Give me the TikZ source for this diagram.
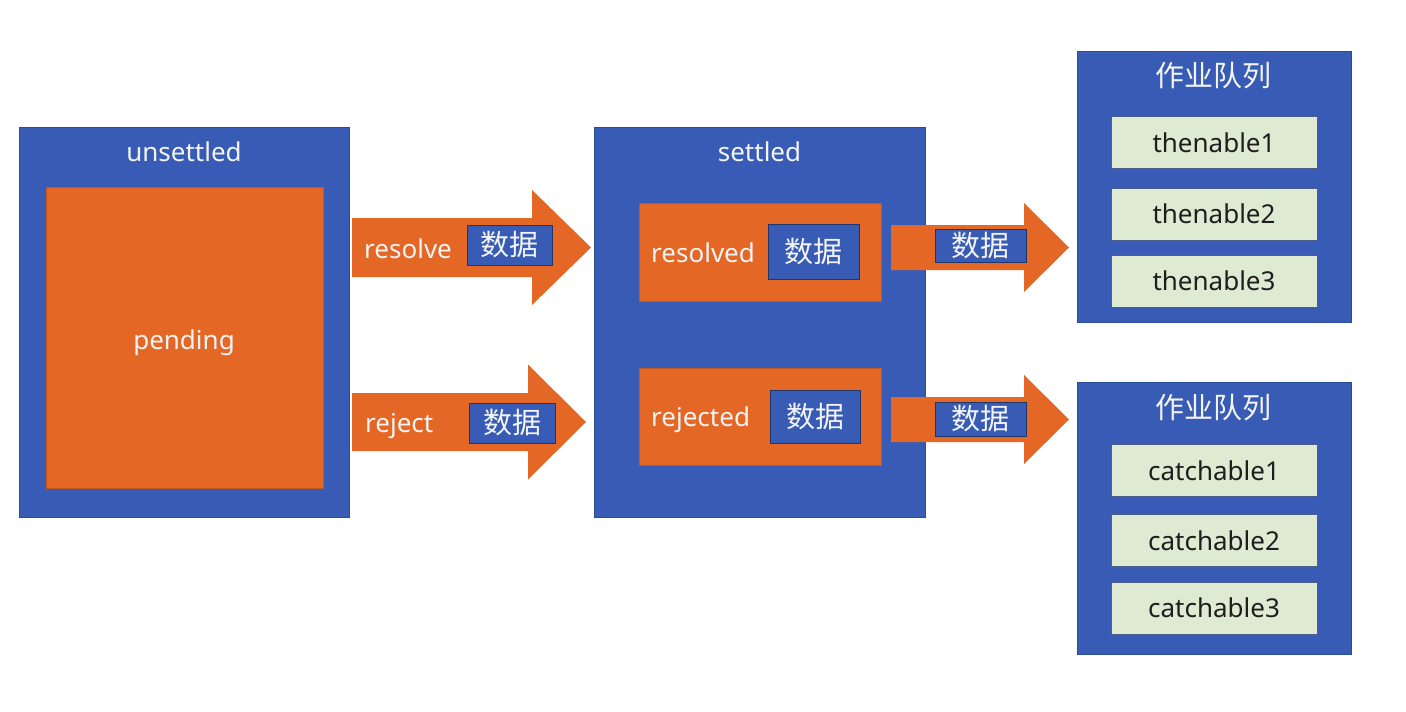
\documentclass[tikz,border=0pt]{standalone}
\usepackage{fontspec}
\setmainfont{Noto Sans}
\newfontfamily\cjk{Noto Sans CJK SC}
\definecolor{blueF}{HTML}{385CB6}
\definecolor{blueL}{HTML}{2D4C96}
\definecolor{orangeF}{HTML}{E46726}
\definecolor{greenF}{HTML}{DEEBD2}
\definecolor{txtW}{HTML}{F4F4F4}
\definecolor{txtD}{HTML}{1E1E1E}
% fat arrow: x start, x head, x tip, y middle, body half height, head half height
\newcommand\fatarrow[6]{%
  \fill[orangeF] (#1,#4-#5) -- (#2,#4-#5) -- (#2,#4-#6) -- (#3,#4) -- (#2,#4+#6) -- (#2,#4+#5) -- (#1,#4+#5) -- cycle;}
\begin{document}
\begin{tikzpicture}[x=1pt, y=-1pt, font=\fontsize{26}{30}\selectfont,
  bluebox/.style={draw=blueL, line width=0.8pt, fill=blueF, inner sep=0pt},
  orangebox/.style={draw=orangeF!85!black, line width=0.6pt, fill=orangeF, inner sep=0pt},
  databox/.style={draw=blueL!70!black, line width=0.8pt, fill=blueF, text=txtW, inner sep=0pt, font=\cjk\fontsize{29}{32}\selectfont, text height=21pt, text depth=0pt},
  itembox/.style={draw=blueL!60!gray, line width=0.6pt, fill=greenF, text=txtD, inner sep=0pt, minimum width=206pt, minimum height=52pt, text height=19pt, text depth=0pt},
  lbl/.style={text=txtW, inner sep=0pt, text height=19pt, text depth=0pt},
  cjklbl/.style={lbl, font=\cjk\fontsize{29}{32}\selectfont, text height=21pt}]
  \useasboundingbox (0,0) rectangle (1406,712);
  \fill[white] (0,0) rectangle (1406,712);
  % unsettled
  \node[bluebox, minimum width=330pt, minimum height=390pt] (unsettled) at (184,322) {};
  \node[lbl] (unsettledT) at (184,152) {unsettled};
  \node[orangebox, minimum width=277pt, minimum height=301pt] (pending) at (184.5,337.5) {};
  \node[lbl] (pendingT) at (184,340) {pending};
  % settled
  \node[bluebox, minimum width=331pt, minimum height=390pt] (settled) at (759.5,322) {};
  \node[lbl] (settledT) at (759.5,152) {settled};
  \node[orangebox, minimum width=242pt, minimum height=98pt] (resolved) at (760,252) {};
  \node[lbl, anchor=west] (resolvedT) at (651,252.5) {resolved};
  \node[databox, minimum width=91pt, minimum height=55pt] (resolvedD) at (813.5,251.5) {数据};
  \node[orangebox, minimum width=242pt, minimum height=97pt] (rejected) at (760,416.5) {};
  \node[lbl, anchor=west] (rejectedT) at (651,417) {rejected};
  \node[databox, minimum width=90pt, minimum height=53pt] (rejectedD) at (815,416.5) {数据};
  % arrows
  \fatarrow{352}{532}{591}{247.5}{29.5}{57.5}
  \node[lbl, anchor=west] (resolveT) at (364,248.5) {resolve};
  \node[databox, minimum width=85pt, minimum height=40pt] (resolveD) at (509.5,245) {数据};
  \fatarrow{352}{528}{586}{422}{29}{57.5}
  \node[lbl, anchor=west] (rejectT) at (365,422.5) {reject};
  \node[databox, minimum width=86pt, minimum height=40pt] (rejectD) at (512,423) {数据};
  \fatarrow{891}{1024}{1069}{247.5}{22.5}{44.5}
  \node[databox, minimum width=91pt, minimum height=33pt] (thenD) at (980.5,245.5) {数据};
  \fatarrow{891}{1024}{1069}{419.5}{22.5}{44.5}
  \node[databox, minimum width=91pt, minimum height=34pt] (catchD) at (980.5,419) {数据};
  % queues
  \node[bluebox, minimum width=274pt, minimum height=271pt] (thenQ) at (1214,186.5) {};
  \node[cjklbl] (thenQT) at (1213,76) {作业队列};
  \foreach \i/\y in {1/142.5,2/214,3/281}
    \node[itembox] (then\i) at (1214,\y) {thenable\i};
  \node[bluebox, minimum width=274pt, minimum height=272pt] (catchQ) at (1214,518) {};
  \node[cjklbl] (catchQT) at (1213,408) {作业队列};
  \foreach \i/\y in {1/470.5,2/540.5,3/608}
    \node[itembox] (catch\i) at (1214,\y) {catchable\i};
\end{tikzpicture}
\end{document}
